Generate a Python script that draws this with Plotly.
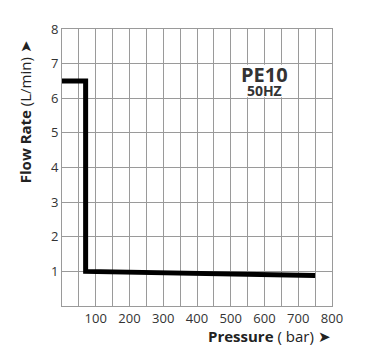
import plotly.graph_objects as go

pressure = [0, 70, 70, 750]
flow = [6.5, 6.5, 1.0, 0.88]
x_ticks = [100, 200, 300, 400, 500, 600, 700, 800]
y_ticks = [1, 2, 3, 4, 5, 6, 7, 8]

fig = go.Figure()
fig.add_trace(go.Scatter(x=pressure, y=flow, mode="lines",
                         line=dict(color="black", width=5),
                         hoverinfo="skip", showlegend=False))

fig.add_shape(type="rect", x0=502, x1=698, y0=6.03, y1=6.97, layer="between",
              fillcolor="white", line=dict(width=0))
fig.add_annotation(x=600, y=6.5, yanchor="middle",
                   text="<b><span style='font-size:20px'>PE10</span><br>"
                        "<span style='font-size:14px'>50HZ</span></b>",
                   showarrow=False,
                   font=dict(family="Open Sans", size=11, color="#333"))

fig.add_annotation(xref="paper", yref="paper", x=1.004, y=-0.108, xanchor="right", yanchor="middle",
                   text="<b>Pressure</b> ( bar) ➤", showarrow=False,
                   font=dict(family="Open Sans", size=15, color="#222"))
fig.add_annotation(xref="paper", yref="paper", x=-0.137, y=0.965, xanchor="center", yanchor="top",
                   text="<b>Flow Rate</b> (L/min) ➤", textangle=-90, showarrow=False,
                   font=dict(family="Open Sans", size=15, color="#222"))

fig.update_xaxes(range=[0, 800], tickvals=x_ticks, showgrid=True,
                 gridcolor="#9a9a9a", gridwidth=1, zeroline=False,
                 showline=True, linecolor="#9a9a9a", mirror=True, ticklabelstandoff=0,
                 tickfont=dict(family="Open Sans", size=13, color="#333"),
                 minor=dict(dtick=50, showgrid=True, gridcolor="#9a9a9a", gridwidth=1),
                 fixedrange=True)
fig.update_yaxes(range=[0, 8], tickvals=y_ticks, showgrid=True,
                 gridcolor="#9a9a9a", gridwidth=1, zeroline=False,
                 showline=True, linecolor="#9a9a9a", mirror=True,
                 tickfont=dict(family="Open Sans", size=13, color="#333"),
                 fixedrange=True)

fig.update_layout(width=366, height=351, margin=dict(l=54, r=42, t=16, b=53),
                  plot_bgcolor="white", paper_bgcolor="white")
fig.write_html("out.html")
